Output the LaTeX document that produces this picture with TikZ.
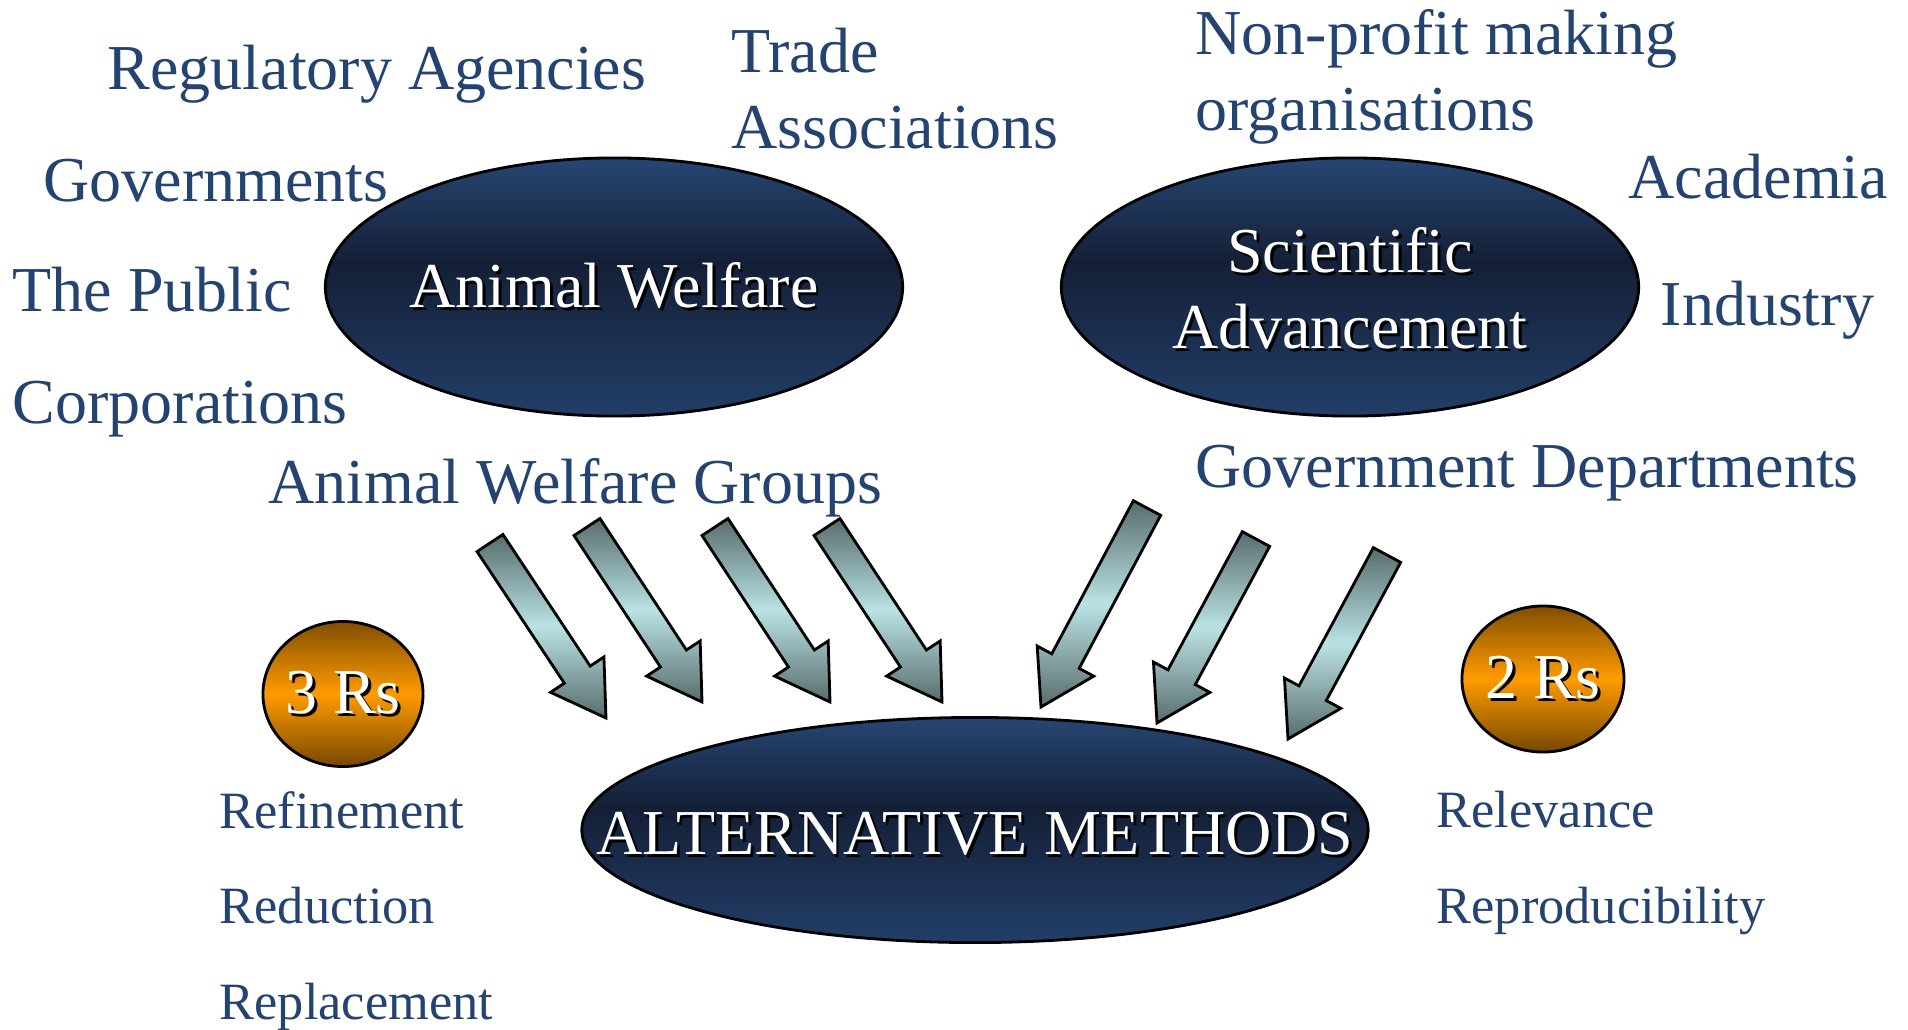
\documentclass[tikz,border=0pt]{standalone}
\usepackage{fontspec}
\setmainfont{Liberation Serif}
\usetikzlibrary{shapes.geometric,calc}

\definecolor{textblue}{RGB}{36,67,112}
\definecolor{ovaltop}{RGB}{38,70,115}
\definecolor{ovalmid}{RGB}{20,31,54}
\definecolor{ovalbot}{RGB}{34,62,104}
\definecolor{balltop}{RGB}{128,78,0}
\definecolor{ballmid}{RGB}{255,155,0}
\definecolor{ballbot}{RGB}{118,72,0}
\definecolor{arrowdark}{RGB}{88,108,108}
\definecolor{arrowlight}{RGB}{186,226,228}

% dark band sits a bit above the middle of the ovals
\pgfdeclareverticalshading{ovalshade}{100bp}{color(0bp)=(ovalbot); color(25bp)=(ovalbot);
  color(55bp)=(ovalmid); color(75bp)=(ovaltop); color(100bp)=(ovaltop)}

\newcommand{\bigfont}{\fontsize{18.2pt}{21.6pt}\selectfont}
\newcommand{\smallfont}{\fontsize{14.9pt}{18pt}\selectfont}
% white lettering with a dark drop shadow
\newcommand{\shadowed}[1]{\makebox[0pt][l]{\hspace{0.8pt}\raisebox{-0.8pt}{\color{black}#1}}#1}
% block arrow from a tail coordinate to a tip coordinate
\newcommand{\fatarrow}[2]{%
  \coordinate (neck) at ($(#2)!0.52cm!(#1)$);
  \path[blockarrow] ($(#1)!0.155cm!90:(#2)$) -- ($(neck)!0.155cm!-90:(#1)$)
    -- ($(neck)!0.32cm!-90:(#1)$) -- (#2) -- ($(neck)!0.32cm!90:(#1)$)
    -- ($(neck)!0.155cm!90:(#1)$) -- ($(#1)!0.155cm!-90:(#2)$) -- cycle;}

\begin{document}
\begin{tikzpicture}[
    x=0.01cm, y=-0.01cm,
    stakeholder/.style={text=textblue, font=\bigfont, inner sep=0pt, anchor=base west, align=left},
    principle/.style={text=textblue, font=\smallfont, inner sep=0pt, anchor=base west},
    oval/.style={ellipse, draw=black, line width=0.8pt, shading=ovalshade, inner sep=0pt},
    rball/.style={ellipse, draw=black, line width=0.8pt, top color=balltop, bottom color=ballbot, middle color=ballmid, inner sep=0pt},
    ovaltext/.style={text=white, font=\bigfont, inner sep=0pt, align=center},
    blockarrow/.style={draw=black, line width=0.8pt, top color=arrowdark, bottom color=arrowdark, middle color=arrowlight}
]
    \path[use as bounding box, fill=white] (0,0) rectangle (1908,1029);

    % who pushes for what (two-line blocks sit on their last line)
    \node[stakeholder] (regulators) at (107,89) {Regulatory Agencies};
    \node[stakeholder] (trade) at (731,148) {Trade\\Associations};
    \node[stakeholder] (nonprofit) at (1195,130) {Non-profit making\\organisations};
    \node[stakeholder] (governments) at (43,201) {Governments};
    \node[stakeholder] (academia) at (1628,198) {Academia};
    \node[stakeholder] (public) at (12,311) {The Public};
    \node[stakeholder] (industry) at (1660,325) {Industry};
    \node[stakeholder] (corporations) at (12,423) {Corporations};
    \node[stakeholder] (awgroups) at (268,503) {Animal Welfare Groups};
    \node[stakeholder] (govdepts) at (1195,487) {Government Departments};

    % the three ovals
    \node[oval, minimum width=5.77cm, minimum height=2.58cm] (welfare) at (614,287) {};
    \node[ovaltext] (welfaretext) at (welfare) {\shadowed{Animal Welfare}};
    \node[oval, minimum width=5.77cm, minimum height=2.58cm] (science) at (1350,287) {};
    \node[ovaltext, yshift=-0.03cm] (sciencetext) at (science) {\shadowed{Scientific}\\\shadowed{Advancement}};
    \node[oval, minimum width=7.86cm, minimum height=2.25cm] (methods) at (975,830) {};
    \node[ovaltext, yshift=-0.05cm] (methodstext) at (methods) {\shadowed{ALTERNATIVE METHODS}};

    % the Rs
    \node[rball, minimum width=1.60cm, minimum height=1.45cm] (threers) at (343,694) {};
    \node[ovaltext] (threerstext) at (threers) {\shadowed{3 Rs}};
    \node[rball, minimum width=1.62cm, minimum height=1.46cm] (twors) at (1543,679) {};
    \node[ovaltext] (tworstext) at (twors) {\shadowed{2 Rs}};

    \node[principle] (refinement) at (219,828) {Refinement};
    \node[principle] (reduction) at (219,923) {Reduction};
    \node[principle] (replacement) at (219,1019) {Replacement};
    \node[principle] (relevance) at (1436,827) {Relevance};
    \node[principle] (reproducibility) at (1436,923) {Reproducibility};

    % arrows into the methods oval
    \coordinate (a1) at (490,543); \coordinate (b1) at (606,718);
    \coordinate (a2) at (587,527); \coordinate (b2) at (702,702);
    \coordinate (a3) at (715,527); \coordinate (b3) at (830,702);
    \coordinate (a4) at (827,527); \coordinate (b4) at (942,702);
    \coordinate (a5) at (1147,508); \coordinate (b5) at (1041,707);
    \coordinate (a6) at (1256,539); \coordinate (b6) at (1157,723);
    \coordinate (a7) at (1387,555); \coordinate (b7) at (1288,739);
    \foreach \i in {1,...,7} {
        \fatarrow{a\i}{b\i}
    }
\end{tikzpicture}
\end{document}
